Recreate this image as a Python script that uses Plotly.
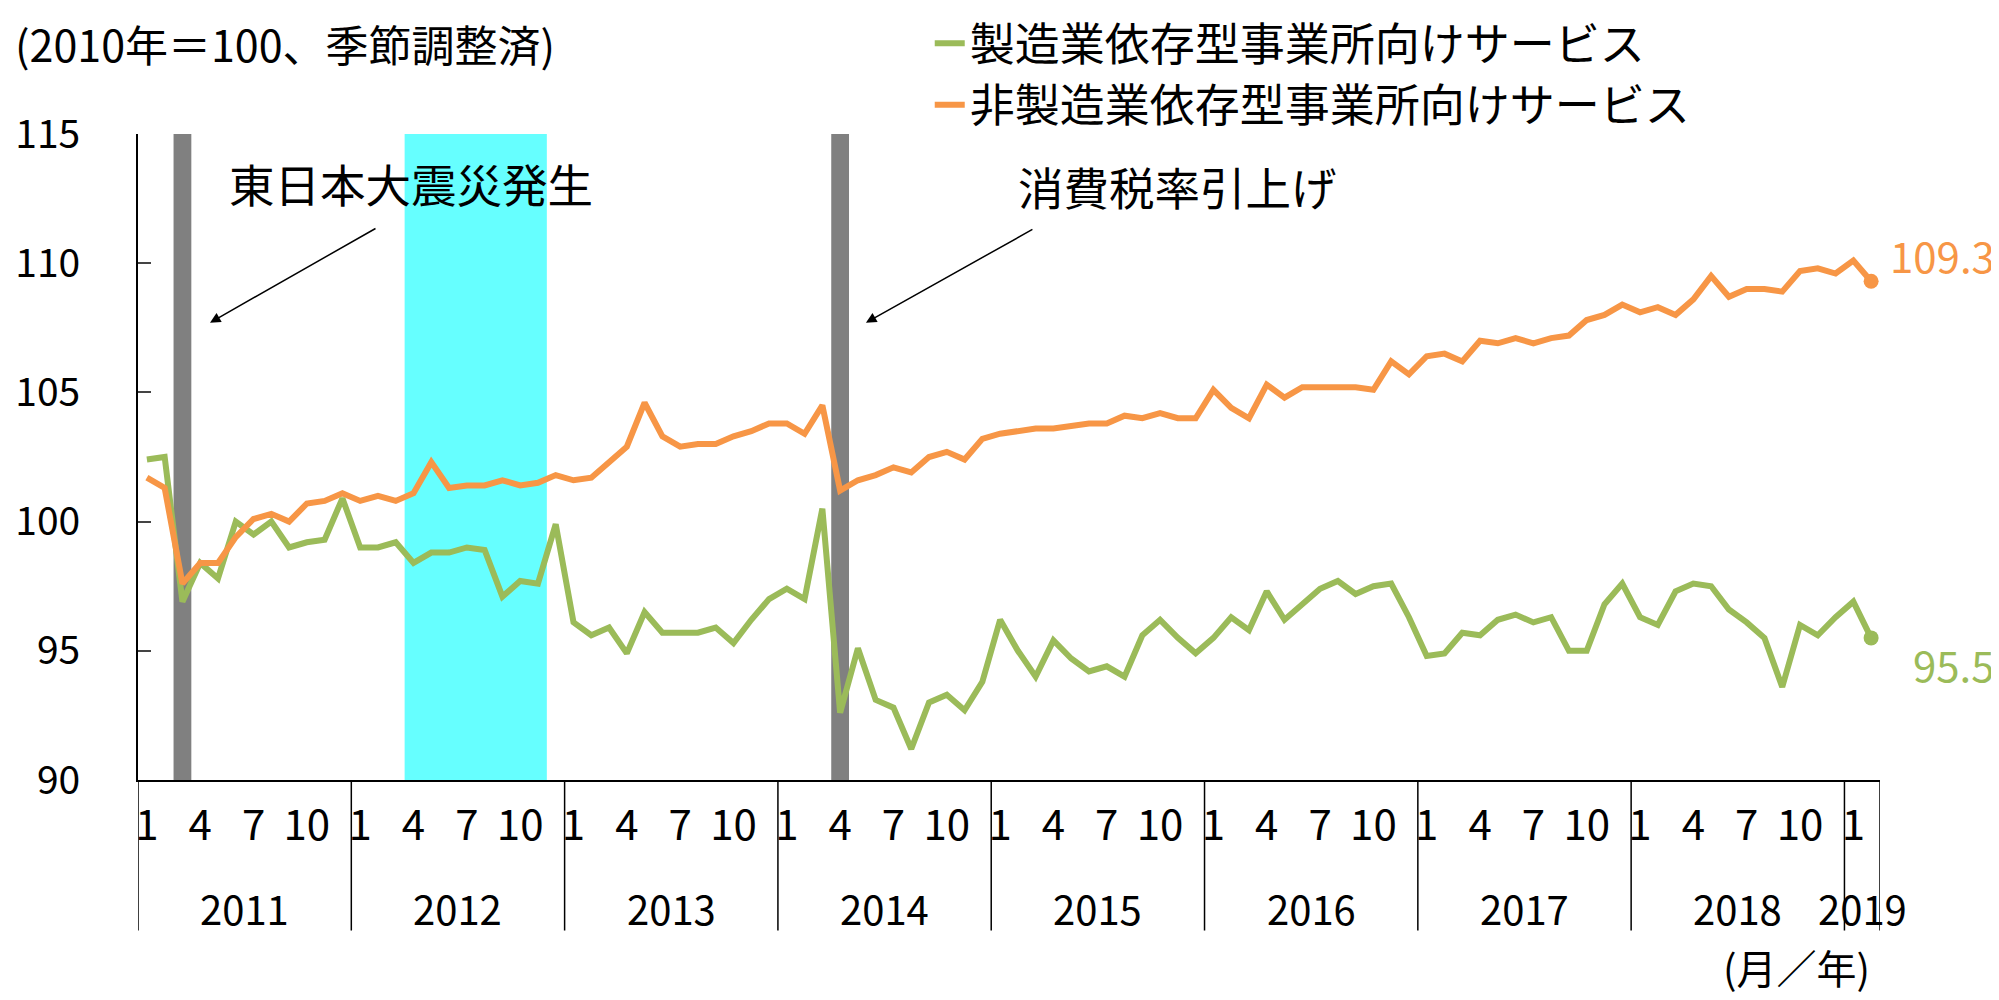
import plotly.graph_objects as go

# 2010=100, seasonally adjusted, monthly Jan 2011 - Feb 2019
years = [2011, 2012, 2013, 2014, 2015, 2016, 2017, 2018, 2019]
month_ticks = [1, 4, 7, 10]

manufacturing = [
    102.4, 102.5, 96.9, 98.4, 97.8, 100.0, 99.5, 100.0, 99.0, 99.2, 99.3, 100.9,
    99.0, 99.0, 99.2, 98.4, 98.8, 98.8, 99.0, 98.9, 97.1, 97.7, 97.6, 99.9,
    96.1, 95.6, 95.9, 94.9, 96.5, 95.7, 95.7, 95.7, 95.9, 95.3, 96.2, 97.0,
    97.4, 97.0, 100.5, 92.6, 95.1, 93.1, 92.8, 91.2, 93.0, 93.3, 92.7, 93.8,
    96.2, 95.0, 94.0, 95.4, 94.7, 94.2, 94.4, 94.0, 95.6, 96.2, 95.5, 94.9,
    95.5, 96.3, 95.8, 97.3, 96.2, 96.8, 97.4, 97.7, 97.2, 97.5, 97.6, 96.3,
    94.8, 94.9, 95.7, 95.6, 96.2, 96.4, 96.1, 96.3, 95.0, 95.0, 96.8, 97.6,
    96.3, 96.0, 97.3, 97.6, 97.5, 96.6, 96.1, 95.5, 93.6, 96.0, 95.6, 96.3,
    96.9, 95.5,
]
non_manufacturing = [
    101.7, 101.3, 97.6, 98.4, 98.4, 99.4, 100.1, 100.3, 100.0, 100.7, 100.8, 101.1,
    100.8, 101.0, 100.8, 101.1, 102.3, 101.3, 101.4, 101.4, 101.6, 101.4, 101.5, 101.8,
    101.6, 101.7, 102.3, 102.9, 104.6, 103.3, 102.9, 103.0, 103.0, 103.3, 103.5, 103.8,
    103.8, 103.4, 104.5, 101.2, 101.6, 101.8, 102.1, 101.9, 102.5, 102.7, 102.4, 103.2,
    103.4, 103.5, 103.6, 103.6, 103.7, 103.8, 103.8, 104.1, 104.0, 104.2, 104.0, 104.0,
    105.1, 104.4, 104.0, 105.3, 104.8, 105.2, 105.2, 105.2, 105.2, 105.1, 106.2, 105.7,
    106.4, 106.5, 106.2, 107.0, 106.9, 107.1, 106.9, 107.1, 107.2, 107.8, 108.0, 108.4,
    108.1, 108.3, 108.0, 108.6, 109.5, 108.7, 109.0, 109.0, 108.9, 109.7, 109.8, 109.6,
    110.1, 109.3,
]

quake_month = (2011, 3)
tax_month = (2014, 4)
recession = ((2012, 4), (2012, 11))

GREEN = "#9BBB59"
ORANGE = "#F79646"
FONT = "Noto Sans CJK JP, sans-serif"


def pos(y, m):
    return (y - years[0]) * 12 + (m - 1)


n = len(manufacturing)
x = list(range(n))
last = n - 1

tickvals, ticktext = [], []
for y in years:
    for m in month_ticks:
        if pos(y, m) < n:
            tickvals.append(pos(y, m))
            ticktext.append(str(m))

fig = go.Figure()
fig.add_trace(go.Scatter(x=x, y=manufacturing, mode="lines", name="製造業依存型事業所向けサービス",
                         legendgroup="a", line=dict(color=GREEN, width=6)))
fig.add_trace(go.Scatter(x=x, y=non_manufacturing, mode="lines", name="非製造業依存型事業所向けサービス",
                         legendgroup="b", line=dict(color=ORANGE, width=6)))
fig.add_trace(go.Scatter(x=[last, last], y=[manufacturing[-1], non_manufacturing[-1]], mode="markers",
                         marker=dict(color=[GREEN, ORANGE], size=15), showlegend=False, hoverinfo="skip"))

shapes = []
for ym in (quake_month, tax_month):
    i = pos(*ym)
    shapes.append(dict(type="rect", xref="x", yref="paper", x0=i - 0.5, x1=i + 0.5, y0=0, y1=1,
                       fillcolor="#808080", line_width=0, layer="below"))
shapes.append(dict(type="rect", xref="x", yref="paper", x0=pos(*recession[0]) - 0.5,
                   x1=pos(*recession[1]) + 0.5, y0=0, y1=1, fillcolor="#66FFFF", line_width=0, layer="below"))

# year dividers below the axis
div_bottom = -0.233
for y in years:
    shapes.append(dict(type="line", xref="x", yref="paper", x0=pos(y, 1) - 0.5, x1=pos(y, 1) - 0.5,
                       y0=0, y1=div_bottom, line=dict(color="black", width=1.5)))
shapes.append(dict(type="line", xref="x", yref="paper", x0=last + 0.5, x1=last + 0.5,
                   y0=0, y1=div_bottom, line=dict(color="black", width=1.5)))

annotations = []
for y in years:
    a = pos(y, 1) - 0.5
    b = min(pos(y, 12), last) + 0.5
    annotations.append(dict(x=(a + b) / 2, y=-0.198, xref="x", yref="paper", text=str(y), showarrow=False,
                            font=dict(family=FONT, size=40, color="black"), yanchor="middle"))

annotations += [
    dict(x=-0.0718, y=1.141, xref="paper", yref="paper", text="(2010年＝100、季節調整済)", showarrow=False,
         xanchor="left", yanchor="middle", font=dict(family=FONT, size=43, color="black")),
    dict(x=0.9954, y=-0.3375, xref="paper", yref="paper", text="(月／年)", showarrow=False,
         xanchor="right", yanchor="bottom", font=dict(family=FONT, size=40, color="black")),
    dict(x=4.5, y=113.1, xref="x", yref="y", text="東日本大震災発生", showarrow=False,
         xanchor="left", yanchor="middle", font=dict(family=FONT, size=45.5, color="black")),
    dict(x=48.9, y=113.0, xref="x", yref="y", text="消費税率引上げ", showarrow=False,
         xanchor="left", yanchor="middle", font=dict(family=FONT, size=45.5, color="black")),
    dict(x=pos(*quake_month) + 1.55, y=107.7, xref="x", yref="y", text="", showarrow=True,
         ax=167, ay=-95, arrowhead=2, arrowsize=1.4, arrowwidth=1.5, arrowcolor="black"),
    dict(x=pos(*tax_month) + 1.45, y=107.7, xref="x", yref="y", text="", showarrow=True,
         ax=168, ay=-94, arrowhead=2, arrowsize=1.4, arrowwidth=1.5, arrowcolor="black"),
    dict(x=1.0672, y=non_manufacturing[-1], xref="paper", yref="y", text=f"{non_manufacturing[-1]:.1f}",
         showarrow=False, xanchor="right", yanchor="middle", yshift=27,
         font=dict(family=FONT, size=42, color=ORANGE)),
    dict(x=1.0672, y=manufacturing[-1], xref="paper", yref="y", text=f"{manufacturing[-1]:.1f}",
         showarrow=False, xanchor="right", yanchor="middle", yshift=-26,
         font=dict(family=FONT, size=42, color=GREEN)),
]

# the page body has an 8px margin, so the figure is 8px smaller than the window
fig.update_layout(
    width=1991, height=992,
    margin=dict(l=130, r=119, t=126, b=220, autoexpand=False),
    plot_bgcolor="white", paper_bgcolor="white",
    font=dict(family=FONT, size=42, color="black"),
    shapes=shapes, annotations=annotations,
    legend=dict(x=0.4545, y=1.196, xanchor="left", yanchor="top", bgcolor="rgba(0,0,0,0)",
                font=dict(family=FONT, size=45), itemwidth=30, tracegroupgap=0),
    xaxis=dict(range=[-0.5, last + 0.5], tickvals=tickvals, ticktext=ticktext, showline=True,
               linecolor="black", linewidth=2, showgrid=False, zeroline=False, ticks="",
               automargin=False, ticklabelstandoff=8, tickfont=dict(family=FONT, size=42)),
    yaxis=dict(range=[90, 115], dtick=5, showline=True, linecolor="black", linewidth=2,
               showgrid=False, zeroline=False, ticks="inside", ticklen=13, tickwidth=2,
               automargin=False, ticklabelstandoff=48, tickfont=dict(family=FONT, size=39)),
)

fig.write_html("out.html")
